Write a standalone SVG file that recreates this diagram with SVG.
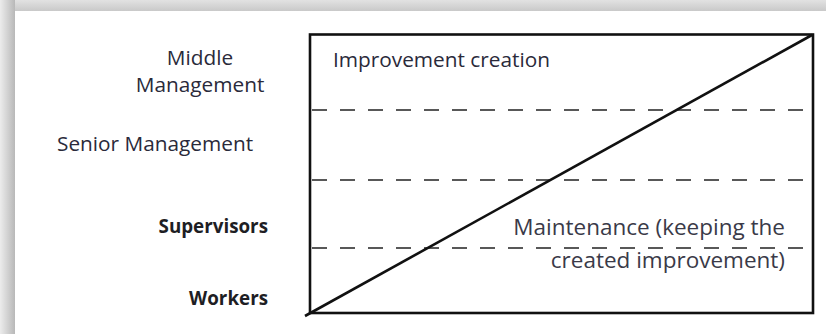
<svg xmlns="http://www.w3.org/2000/svg" width="826" height="334" viewBox="0 0 826 334">
<defs>
<linearGradient id="gt" x1="0" y1="0" x2="0" y2="1"><stop offset="0" stop-color="#e2e2e2"/><stop offset="1" stop-color="#c9c9c9"/></linearGradient>
<linearGradient id="gl" x1="0" y1="0" x2="1" y2="0"><stop offset="0" stop-color="#ececec"/><stop offset="1" stop-color="#b8b8b8"/></linearGradient>
<style>
.lbl{font-family:"Open Sans","Liberation Sans",sans-serif;font-size:20.8px;fill:#2a2a3a}
.m{font-size:22.5px;fill:#3a3a48}
.b{font-weight:bold;font-size:18.8px;fill:#1e1e24}
.dash{stroke:#222;stroke-width:1.6;stroke-dasharray:15 13;fill:none}
</style>
</defs>
<rect width="826" height="334" fill="#fff"/>
<rect x="0" y="0" width="826" height="11" fill="url(#gt)"/>
<rect x="0" y="0" width="15" height="334" fill="url(#gl)"/>
<g id="chart">
<rect x="310" y="34.5" width="503" height="278.5" fill="none" stroke="#111" stroke-width="2.6"/>
</g>
<g id="connectors">
<line class="dash" x1="312" y1="110" x2="806" y2="110"/>
<line class="dash" x1="312" y1="180" x2="806" y2="180"/>
<line class="dash" x1="312" y1="248" x2="806" y2="248"/>
<line x1="305" y1="316" x2="812" y2="35" stroke="#111" stroke-width="2.6"/>
</g>
<g id="label-improvement"><text class="lbl" x="333" y="67">Improvement creation</text></g>
<g id="label-maintenance">
<text class="lbl m" x="785" y="235" text-anchor="end">Maintenance (keeping the</text>
<text class="lbl m" x="785" y="268" text-anchor="end">created improvement)</text>
</g>
<g id="label-middle">
<text class="lbl" x="200" y="65" text-anchor="middle">Middle</text>
<text class="lbl" x="200" y="92" text-anchor="middle">Management</text>
</g>
<g id="label-senior"><text class="lbl" x="57" y="151">Senior Management</text></g>
<g id="label-supervisors"><text class="lbl b" x="268" y="233" text-anchor="end">Supervisors</text></g>
<g id="label-workers"><text class="lbl b" x="268" y="305" text-anchor="end">Workers</text></g>
</svg>
